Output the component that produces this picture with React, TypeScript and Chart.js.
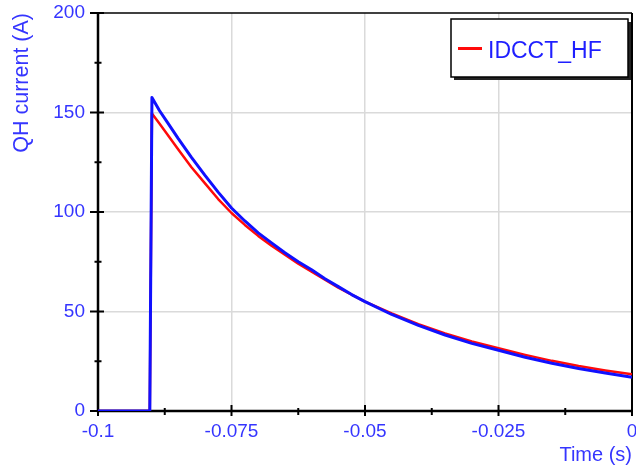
import React, { useEffect, useRef } from 'react';
import { Chart, registerables } from 'chart.js';

Chart.register(...registerables);

// ---- Data ----
const timeS = [-0.1, -0.0903, -0.0899, -0.0885, -0.087, -0.085, -0.0825, -0.08, -0.0775, -0.075, -0.0725, -0.07, -0.0675, -0.065, -0.0625, -0.06, -0.0575, -0.055, -0.0525, -0.05, -0.045, -0.04, -0.035, -0.03, -0.025, -0.02, -0.015, -0.01, -0.005, 0];
const qhCurrentBlue = [0, 0, 157.5, 151, 145, 137, 127.5, 118.5, 110, 102, 95.5, 89.5, 84.5, 79.5, 75, 71, 66.5, 62.5, 58.5, 55, 48.5, 43, 38.2, 34, 30.5, 27, 24, 21.4, 19.1, 17];
const idcctHf = [0, 0, 149.5, 144.5, 139, 131.5, 122.5, 114.5, 106.5, 99.5, 93.5, 88, 83, 78.5, 74, 70, 66, 62, 58.5, 55, 49, 43.6, 39, 35, 31.5, 28.2, 25.2, 22.6, 20.4, 18.5];

const xMajorTicks = [-0.1, -0.075, -0.05, -0.025, 0];
const xTickLabels = ['-0.1', '-0.075', '-0.05', '-0.025', '0'];
const yMajorTicks = [0, 50, 100, 150, 200];
const yTickLabels = ['0', '50', '100', '150', '200'];

const BLUE_TEXT = '#3535ff';
const FONT = '"Liberation Sans", Arial, sans-serif';

const isMajor = (v: number, majors: number[]) => majors.findIndex((t) => Math.abs(t - v) < 1e-9);

const framePlugin = {
  id: 'frame',
  beforeDatasetsDraw(chart: any) {
    const { ctx, chartArea } = chart;
    const { left, right, top, bottom } = chartArea;
    const xs = chart.scales.x;
    const ys = chart.scales.y;
    ctx.save();
    ctx.strokeStyle = '#000';
    ctx.lineWidth = 1.5;
    ctx.beginPath();
    ctx.moveTo(left, top);
    ctx.lineTo(right, top);
    ctx.stroke();
    ctx.lineWidth = 2;
    ctx.beginPath();
    ctx.moveTo(right, top);
    ctx.lineTo(right, bottom);
    ctx.stroke();
    ctx.lineWidth = 2.5;
    ctx.beginPath();
    ctx.moveTo(left, top);
    ctx.lineTo(left, bottom);
    ctx.lineTo(right, bottom);
    ctx.stroke();
    ctx.lineWidth = 2;
    xs.ticks.forEach((t: any) => {
      const px = xs.getPixelForValue(t.value);
      const major = isMajor(t.value, xMajorTicks) >= 0;
      ctx.beginPath();
      ctx.moveTo(px, bottom - (major ? 6 : 3));
      ctx.lineTo(px, bottom + (major ? 5 : 4));
      ctx.stroke();
    });
    ys.ticks.forEach((t: any) => {
      const py = ys.getPixelForValue(t.value);
      const major = isMajor(t.value, yMajorTicks) >= 0;
      ctx.beginPath();
      ctx.moveTo(left - (major ? 8 : 3.5), py);
      ctx.lineTo(left + (major ? 6 : 3.5), py);
      ctx.stroke();
    });
    ctx.restore();
  },
};

const legendPlugin = {
  id: 'boxLegend',
  afterDraw(chart: any) {
    const { ctx } = chart;
    const ds = chart.data.datasets.find((d: any) => d.showInLegend);
    if (!ds) return;
    const x = 451, y = 19, w = 177, h = 58;
    ctx.save();
    ctx.fillStyle = '#222';
    ctx.fillRect(x + 3, y + 3, w, h);
    ctx.fillStyle = '#fff';
    ctx.fillRect(x, y, w, h);
    ctx.strokeStyle = '#000';
    ctx.lineWidth = 1.5;
    ctx.strokeRect(x, y, w, h);
    ctx.strokeStyle = ds.borderColor;
    ctx.lineWidth = 3;
    ctx.beginPath();
    ctx.moveTo(458, 48.5);
    ctx.lineTo(482, 48.5);
    ctx.stroke();
    ctx.fillStyle = '#1f1fff';
    ctx.font = `23px ${FONT}`;
    ctx.textBaseline = 'alphabetic';
    ctx.textAlign = 'left';
    ctx.fillText(ds.label, 488, 57.5);
    ctx.restore();
  },
};

export default function App() {
  const ref = useRef<HTMLCanvasElement | null>(null);

  useEffect(() => {
    if (!ref.current) return;
    const chart = new Chart(ref.current, {
      type: 'line',
      data: {
        datasets: [
          {
            label: 'QH current',
            data: timeS.map((t, i) => ({ x: t, y: qhCurrentBlue[i] })),
            borderColor: '#1010ff',
            borderWidth: 3,
            pointRadius: 0,
            tension: 0,
            borderJoinStyle: 'round',
            order: 0,
            showInLegend: false,
          } as any,
          {
            label: 'IDCCT_HF',
            data: timeS.map((t, i) => ({ x: t, y: idcctHf[i] })),
            borderColor: '#ff0a0a',
            borderWidth: 2.5,
            pointRadius: 0,
            tension: 0,
            borderJoinStyle: 'round',
            order: 1,
            showInLegend: true,
          } as any,
        ],
      },
      options: {
        animation: false,
        responsive: false,
        maintainAspectRatio: false,
        layout: { padding: { left: 0, top: 13, right: 4, bottom: 0 } },
        plugins: {
          legend: { display: false },
          tooltip: { enabled: false },
        },
        scales: {
          x: {
            type: 'linear',
            min: -0.1,
            max: 0,
            afterFit(scale: any) {
              scale.height = 62;
              scale.paddingLeft = 0;
              scale.paddingRight = 0;
            },
            ticks: {
              stepSize: 0.0125,
              autoSkip: false,
              maxRotation: 0,
              padding: 9,
              color: BLUE_TEXT,
              font: { family: FONT, size: 19 },
              callback: (v: any) => {
                const i = isMajor(Number(v), xMajorTicks);
                return i >= 0 ? xTickLabels[i] : '';
              },
            },
            grid: {
              drawTicks: false,
              lineWidth: 1.5,
              color: (c: any) => {
                const v = c.tick ? c.tick.value : NaN;
                const i = isMajor(v, xMajorTicks);
                return i > 0 && i < xMajorTicks.length - 1 ? '#dadada' : 'rgba(0,0,0,0)';
              },
            },
            border: { display: false },
            title: {
              display: true,
              text: 'Time (s)',
              align: 'end',
              color: BLUE_TEXT,
              font: { family: FONT, size: 20 },
              padding: { top: 0, bottom: 6 },
            },
          },
          y: {
            type: 'linear',
            min: 0,
            max: 200,
            afterFit(scale: any) {
              scale.width = 98;
              scale.paddingTop = 0;
              scale.paddingBottom = 0;
            },
            ticks: {
              stepSize: 25,
              autoSkip: false,
              padding: 13,
              color: BLUE_TEXT,
              font: { family: FONT, size: 19 },
              callback: (v: any) => {
                const i = isMajor(Number(v), yMajorTicks);
                return i >= 0 ? yTickLabels[i] : '';
              },
            },
            grid: {
              drawTicks: false,
              lineWidth: 1.5,
              color: (c: any) => {
                const v = c.tick ? c.tick.value : NaN;
                const i = isMajor(v, yMajorTicks);
                return i > 0 && i < yMajorTicks.length - 1 ? '#dadada' : 'rgba(0,0,0,0)';
              },
            },
            border: { display: false },
            title: {
              display: true,
              text: 'QH current (A)',
              align: 'end',
              color: BLUE_TEXT,
              font: { family: FONT, size: 21.5 },
              padding: { top: 9, bottom: 0 },
            },
          },
        },
      },
      plugins: [framePlugin, legendPlugin],
    });
    return () => chart.destroy();
  }, []);

  return (
    <div style={{ position: 'fixed', left: 0, top: 0, width: 636, height: 473, background: '#fff' }}>
      <canvas ref={ref} width={636} height={473} style={{ display: 'block', width: 636, height: 473 }} />
    </div>
  );
}
